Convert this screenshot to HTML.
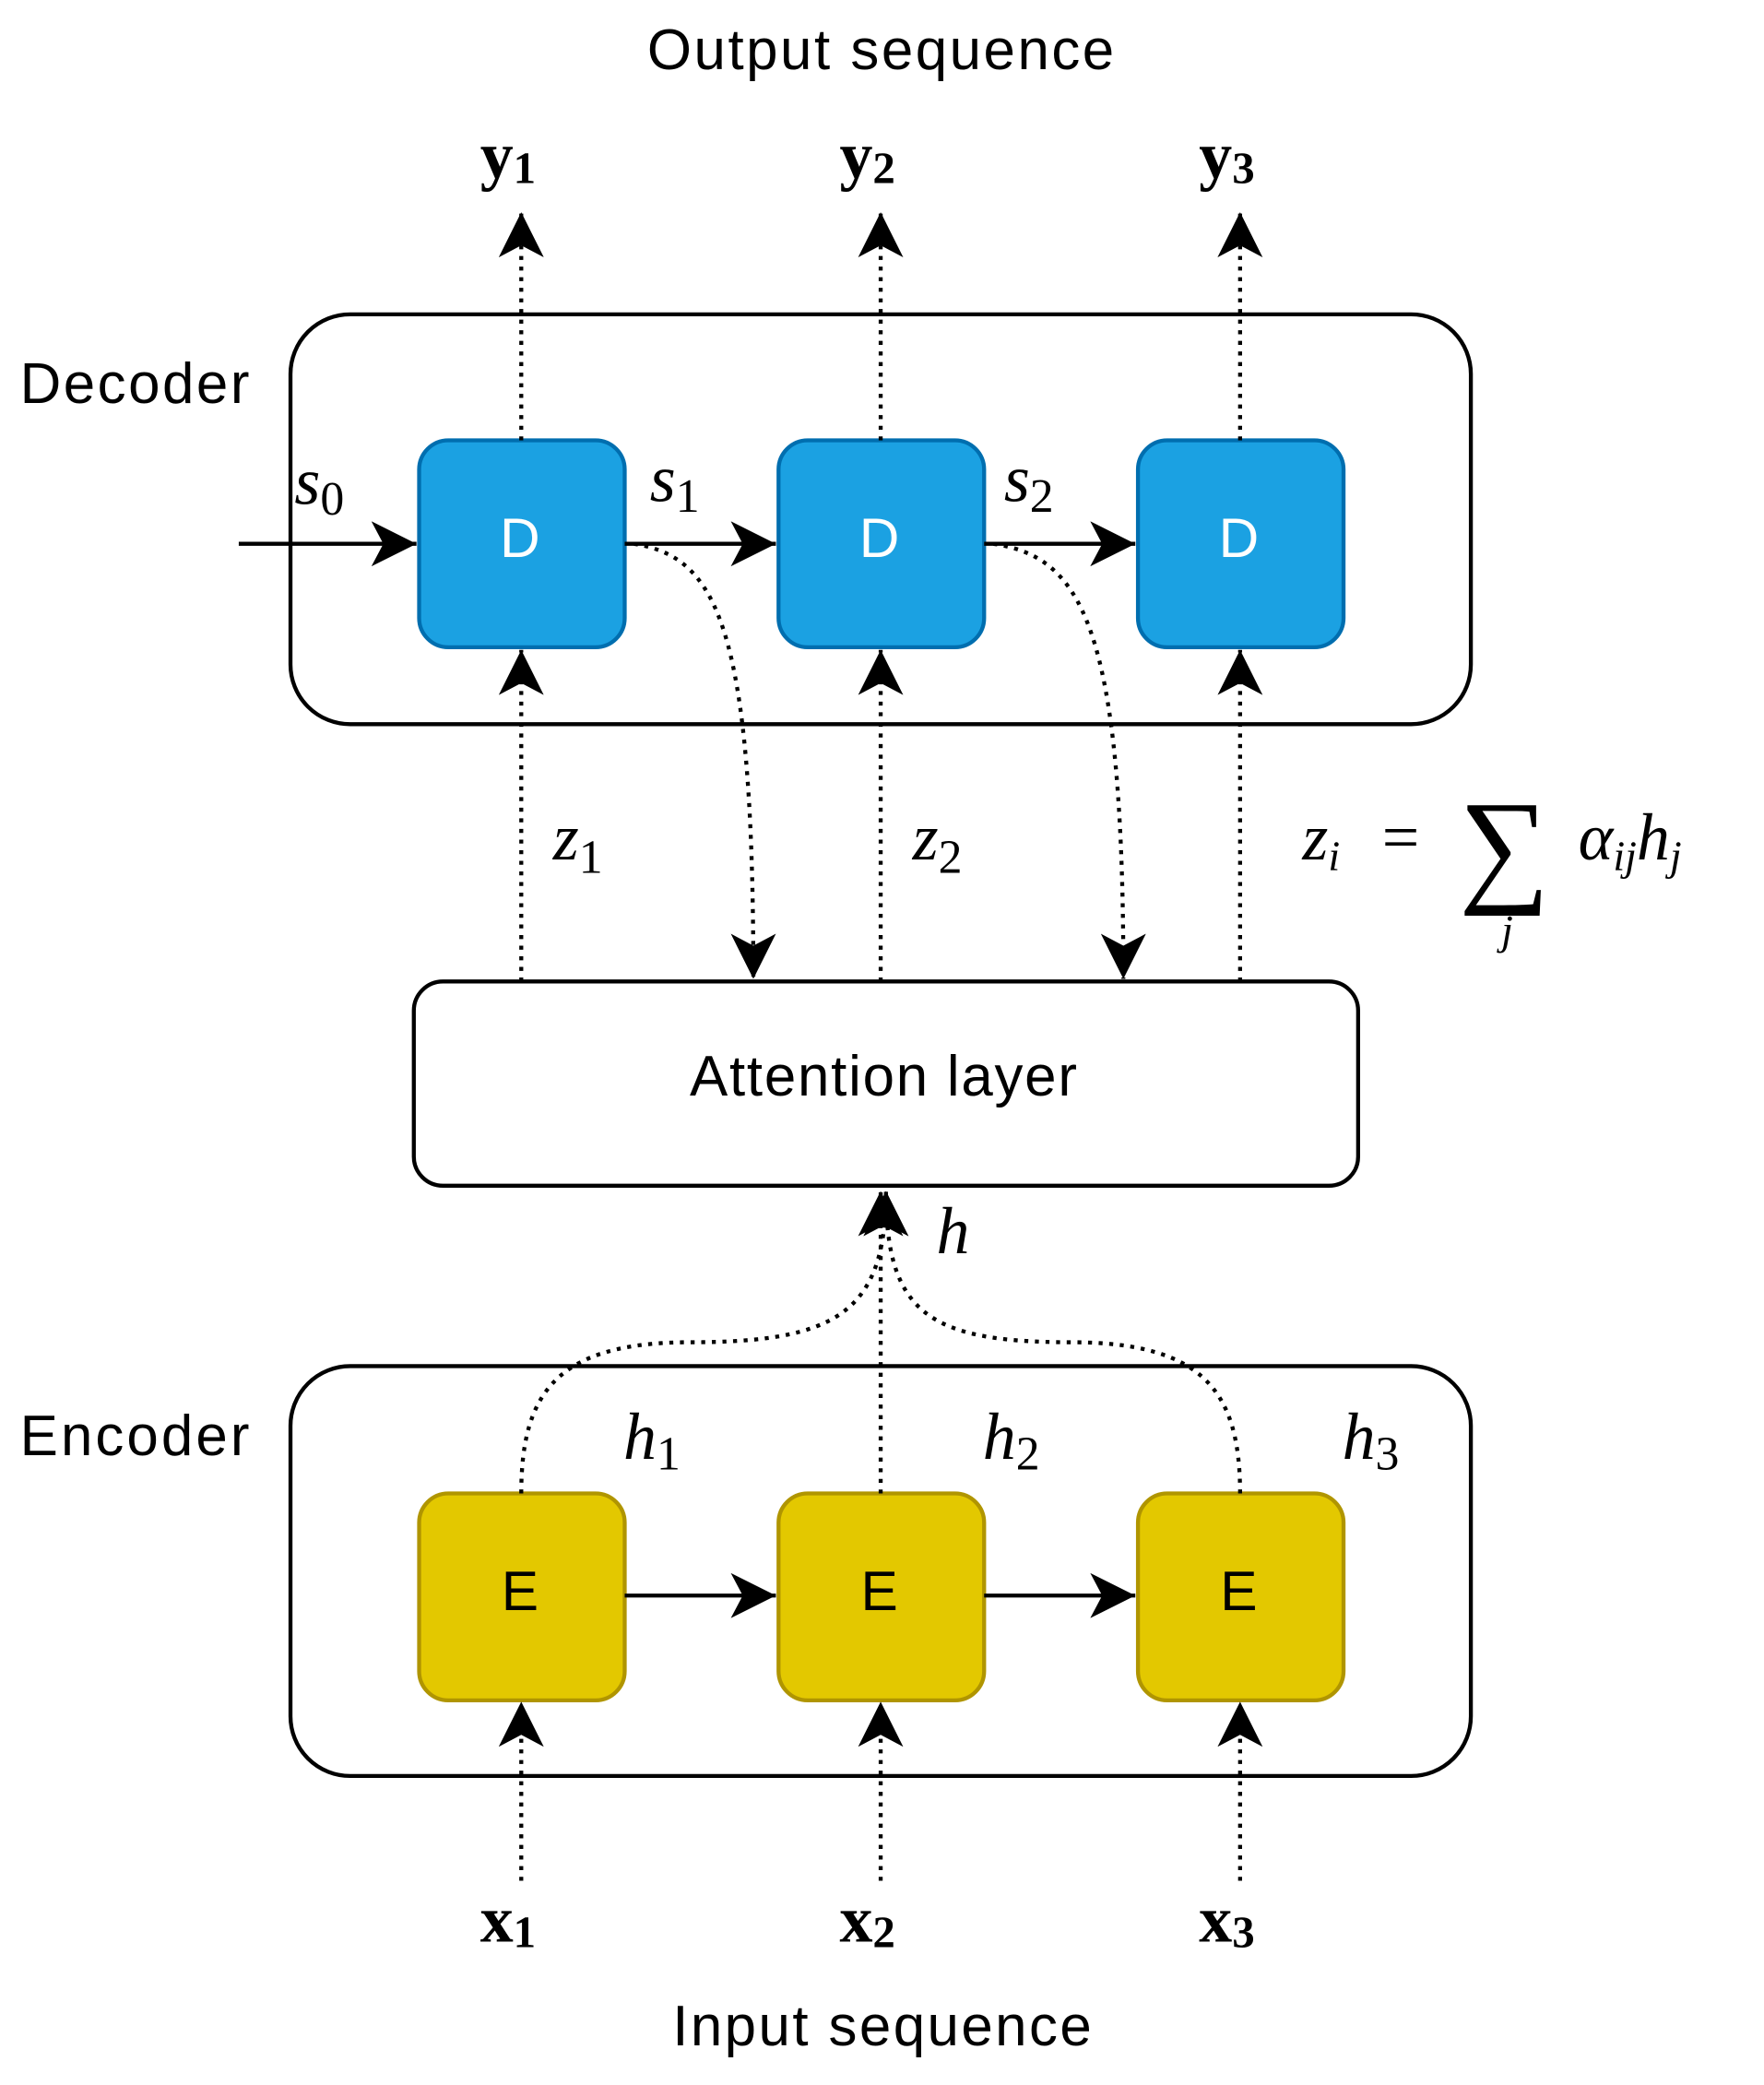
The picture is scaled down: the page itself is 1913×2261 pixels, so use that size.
<!DOCTYPE html>
<html><head><meta charset="utf-8"><style>html,body{margin:0;padding:0;background:#fff}svg{display:block}</style></head>
<body>
<svg width="1913" height="2261" viewBox="0 0 1330 1572" xmlns="http://www.w3.org/2000/svg">
<defs>
<marker id="a" markerUnits="userSpaceOnUse" markerWidth="36" markerHeight="34" refX="34" refY="17" orient="auto">
<path d="M0,0 L34,17 L0,34 L9,17 Z" fill="#000"/>
</marker>
</defs>
<g font-family="Liberation Sans, sans-serif" font-size="43" fill="#000">
<text x="488" y="52" textLength="352">Output sequence</text>
<text x="507" y="1542" textLength="316">Input sequence</text>
<text x="15" y="304" textLength="173">Decoder</text>
<text x="15" y="1097" textLength="173">Encoder</text>
</g>
<rect x="219" y="237" width="890" height="309" rx="45" fill="none" stroke="#000" stroke-width="3"/>
<rect x="219" y="1030" width="890" height="309" rx="45" fill="none" stroke="#000" stroke-width="3"/>
<rect x="312" y="740" width="712" height="154" rx="22" fill="#fff" stroke="#000" stroke-width="3"/>
<text x="520" y="826" font-family="Liberation Sans, sans-serif" font-size="43" textLength="292">Attention layer</text>
<g stroke="#006eaf" stroke-width="3" fill="#1ba1e2">
<rect x="316" y="332" width="155" height="156" rx="22"/>
<rect x="587" y="332" width="155" height="156" rx="22"/>
<rect x="858" y="332" width="155" height="156" rx="22"/>
</g>
<g stroke="#b09500" stroke-width="3" fill="#e3c800">
<rect x="316" y="1126" width="155" height="156" rx="22"/>
<rect x="587" y="1126" width="155" height="156" rx="22"/>
<rect x="858" y="1126" width="155" height="156" rx="22"/>
</g>
<g font-family="Liberation Sans, sans-serif" font-size="42" text-anchor="middle">
<text x="392" y="420" fill="#fff">D</text><text x="663" y="420" fill="#fff">D</text><text x="934" y="420" fill="#fff">D</text>
<text x="392" y="1214">E</text><text x="663" y="1214">E</text><text x="934" y="1214">E</text>
</g>
<g stroke="#000" stroke-width="3" fill="none" marker-end="url(#a)">
<path d="M180,410 H314"/><path d="M471,410 H585"/><path d="M742,410 H856"/>
<path d="M471,1203 H585"/><path d="M742,1203 H856"/>
</g>
<g stroke="#000" stroke-width="3" fill="none" stroke-dasharray="3 5" marker-end="url(#a)">
<path d="M393,332 V160"/><path d="M664,332 V160"/><path d="M935,332 V160"/>
<path d="M393,740 V490"/><path d="M664,740 V490"/><path d="M935,740 V490"/>
<path d="M393,1418 V1283"/><path d="M664,1418 V1283"/><path d="M935,1418 V1283"/>
<path d="M478,410 C540,420 568,470 568,738"/>
<path d="M749,410 C815,420 847,470 847,738"/>
<path d="M393,1126 C393,1050 420,1012 520,1012 C630,1012 668,990 668,898"/>
<path d="M664,1126 V898"/>
<path d="M935,1126 C935,1050 908,1012 808,1012 C700,1012 668,990 668,898"/>
</g>
<g font-family="Liberation Serif, serif" font-size="50" font-weight="bold">
<text x="362" y="134">y<tspan font-size="34" dy="4">1</tspan></text>
<text x="633" y="134">y<tspan font-size="34" dy="4">2</tspan></text>
<text x="904" y="134">y<tspan font-size="34" dy="4">3</tspan></text>
<text x="362" y="1464">x<tspan font-size="34" dy="4">1</tspan></text>
<text x="633" y="1464">x<tspan font-size="34" dy="4">2</tspan></text>
<text x="904" y="1464">x<tspan font-size="34" dy="4">3</tspan></text>
</g>
<g font-family="Liberation Serif, serif" font-size="50">
<text x="222" y="380" font-style="italic">s<tspan font-style="normal" font-size="36" dy="8">0</tspan></text>
<text x="490" y="378" font-style="italic">s<tspan font-style="normal" font-size="36" dy="8">1</tspan></text>
<text x="757" y="378" font-style="italic">s<tspan font-style="normal" font-size="36" dy="8">2</tspan></text>
<text x="417" y="648" font-style="italic">z<tspan font-style="normal" font-size="36" dy="10">1</tspan></text>
<text x="688" y="648" font-style="italic">z<tspan font-style="normal" font-size="36" dy="10">2</tspan></text>
<text x="706" y="945" font-style="italic">h</text>
<text x="470" y="1100" font-style="italic">h<tspan font-style="normal" font-size="36" dy="8">1</tspan></text>
<text x="741" y="1100" font-style="italic">h<tspan font-style="normal" font-size="36" dy="8">2</tspan></text>
<text x="1012" y="1100" font-style="italic">h<tspan font-style="normal" font-size="36" dy="8">3</tspan></text>
<text x="982" y="648" font-style="italic">z<tspan font-size="32" dy="8">i</tspan></text>
<text x="1042" y="648">=</text>
<text x="1100" y="670" font-size="96">∑</text>
<text x="1132" y="712" font-style="italic" font-size="32">j</text>
<text x="1190" y="648" font-style="italic">α<tspan font-size="32" dy="8">ij</tspan><tspan dy="-8">h</tspan><tspan font-size="32" dy="8">j</tspan></text>
</g>
</svg>
</body></html>
